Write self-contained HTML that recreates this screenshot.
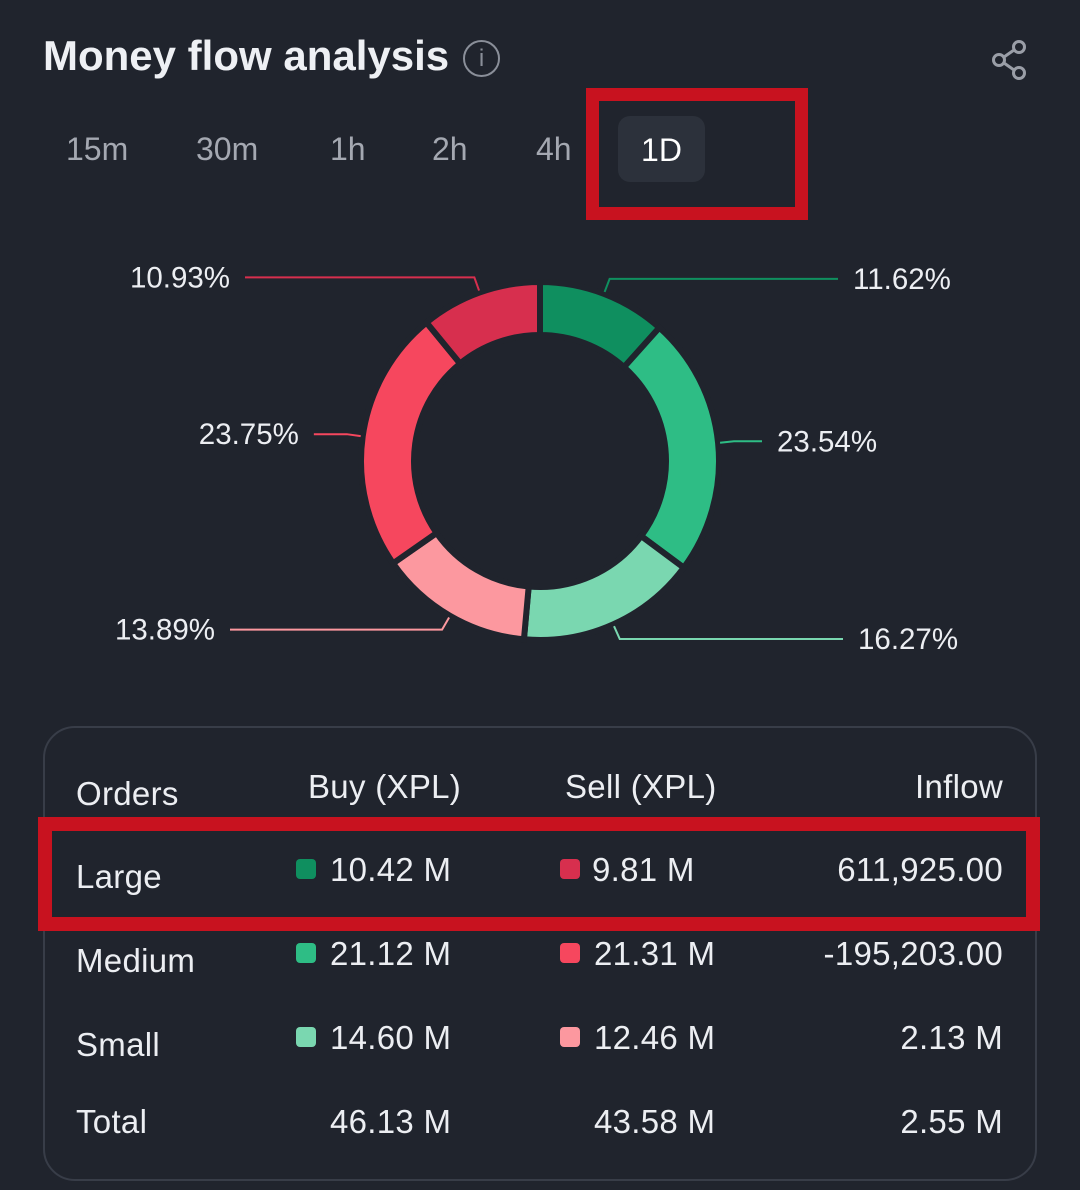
<!DOCTYPE html>
<html><head><meta charset="utf-8"><style>
body{margin:0;width:1080px;height:1190px;background:#20242d;font-family:"Liberation Sans",sans-serif;color:#e9ebef;position:relative;overflow:hidden}
.abs{position:absolute;white-space:nowrap}
.tab{position:absolute;top:131px;font-size:32px;color:#a4a8b1}
.cell{position:absolute;font-size:33px;letter-spacing:0.3px;color:#eceef2;white-space:nowrap}
.sq{position:absolute;width:20px;height:20px;border-radius:4px}
</style></head><body>
<div class="abs" style="left:43px;top:32px;font-size:42px;font-weight:bold;color:#eef0f4;letter-spacing:0px">Money flow analysis</div>
<div class="abs" style="left:463px;top:40px;width:33px;height:33px;border:2.5px solid #8a8f99;border-radius:50%;color:#8a8f99;font-size:24px;text-align:center;line-height:34px">i</div>
<svg class="abs" style="left:988px;top:38px" width="44" height="44" viewBox="0 0 44 44"><g fill="none" stroke="#9a9ea7" stroke-width="3"><circle cx="31" cy="9" r="5.5"/><circle cx="11" cy="22" r="5.5"/><circle cx="31" cy="35" r="5.5"/><path d="M16 19 L26 12 M16 25 L26 32"/></g></svg>
<div class="tab" style="left:66px">15m</div>
<div class="tab" style="left:196px">30m</div>
<div class="tab" style="left:330px">1h</div>
<div class="tab" style="left:432px">2h</div>
<div class="tab" style="left:536px">4h</div>
<div class="abs" style="left:618px;top:116px;width:87px;height:66px;background:#2c313b;border-radius:12px;font-size:32px;color:#fff;text-align:center;line-height:68px">1D</div>
<div class="abs" style="left:586px;top:88px;width:196px;height:106px;border:13px solid #c8121f"></div>

<svg class="abs" id="donut" style="left:0;top:230px" width="1080" height="470"></svg>

<div class="abs" style="left:43px;top:726px;width:990px;height:451px;border:2px solid #383d48;border-radius:32px"></div>
<div class="cell" style="left:76px;top:775px">Orders</div>
<div class="cell" style="left:308px;top:768px">Buy (XPL)</div>
<div class="cell" style="left:565px;top:768px">Sell (XPL)</div>
<div class="cell" style="right:77px;top:768px">Inflow</div>
<div id="rows"></div>
<div class="abs" style="left:38px;top:817px;width:974px;height:86px;border:14px solid #c8121f"></div>

<script>
const labels=["Large buy","Medium buy","Small buy","Small sell","Medium sell","Large sell"];
const shares=[11.62,23.54,16.27,13.89,23.75,10.93];
const pctText=["11.62%","23.54%","16.27%","13.89%","23.75%","10.93%"];
const colors=["#0f8f5f","#2ebd85","#7ad7b0","#fc989f","#f6475e","#d72f4e"];
const rowNames=["Large","Medium","Small","Total"];
const buyVals=["10.42 M","21.12 M","14.60 M","46.13 M"];
const sellVals=["9.81 M","21.31 M","12.46 M","43.58 M"];
const inflowVals=["611,925.00","-195,203.00","2.13 M","2.55 M"];
const buyColors=["#0f8f5f","#2ebd85","#7ad7b0",null];
const sellColors=["#d72f4e","#f6475e","#fc989f",null];

const NS="http://www.w3.org/2000/svg";
const svg=document.getElementById('donut');
const cx=540,cy=231,R=179,r=126;
const total=shares.reduce((a,b)=>a+b,0);
function pt(a,rad){return [cx+rad*Math.sin(a),cy-rad*Math.cos(a)];}
let acc=0;
shares.forEach((v,i)=>{
  const a0=acc/total*2*Math.PI; acc+=v; const a1=acc/total*2*Math.PI;
  const lg=(a1-a0)>Math.PI?1:0;
  const p0=pt(a0,R),p1=pt(a1,R),q1=pt(a1,r),q0=pt(a0,r);
  const p=document.createElementNS(NS,'path');
  p.setAttribute('d',`M${p0} A${R} ${R} 0 ${lg} 1 ${p1} L${q1} A${r} ${r} 0 ${lg} 0 ${q0}Z`);
  p.setAttribute('fill',colors[i]);p.setAttribute('stroke','#20242d');p.setAttribute('stroke-width','6');
  
  
  svg.appendChild(p);
  const am=(a0+a1)/2; const s=pt(am,R+2); const e=pt(am,R+16);
  const right=Math.sin(am)>=0;
  const side=Math.abs(Math.sin(am))>0.9;
  const top=Math.cos(am)>0;
  let hx;
  if(side){hx=right?e[0]+28:e[0]-33;}
  else if(top){hx=right?838:245;}
  else{hx=right?843:230;}
  const l=document.createElementNS(NS,'polyline');
  l.setAttribute('points',`${s} ${e} ${hx},${e[1]}`);
  l.setAttribute('fill','none');l.setAttribute('stroke',colors[i]);l.setAttribute('stroke-width','2');
  
  
  svg.appendChild(l);
  const t=document.createElementNS(NS,'text');
  t.setAttribute('x',right?hx+15:hx-15);t.setAttribute('y',e[1]+10);
  t.setAttribute('text-anchor',right?'start':'end');
  t.setAttribute('fill','#eceef2');t.setAttribute('font-size','29.5');t.setAttribute('font-family','Liberation Sans, sans-serif');
  t.textContent=pctText[i];
  
  
  svg.appendChild(t);
});
const rows=document.getElementById('rows');
const rowTops=[857,941,1025,1102];
rowNames.forEach((n,i)=>{
  const y=rowTops[i];
  const mk=(txt,style,name)=>{const d=document.createElement('div');d.className='cell';d.style.cssText=style;d.textContent=txt;
    
    
    rows.appendChild(d);};
  mk(n,`left:76px;top:${y+1}px`,'row-label');
  mk(buyVals[i],`left:330px;top:${i==3?y+1:y-6}px`,'buy-value');
  mk(sellVals[i],`left:${i==0?592:594}px;top:${i==3?y+1:y-6}px`,'sell-value');
  mk(inflowVals[i],`right:77px;top:${i==3?y+1:y-6}px`,'inflow-value');
  if(buyColors[i]){const s=document.createElement('div');s.className='sq';s.style.cssText=`left:296px;top:${y+2}px;background:${buyColors[i]}`;
    
    
    rows.appendChild(s);}
  if(sellColors[i]){const s=document.createElement('div');s.className='sq';s.style.cssText=`left:560px;top:${y+2}px;background:${sellColors[i]}`;
    
    
    rows.appendChild(s);}
});
</script>
</body></html>
